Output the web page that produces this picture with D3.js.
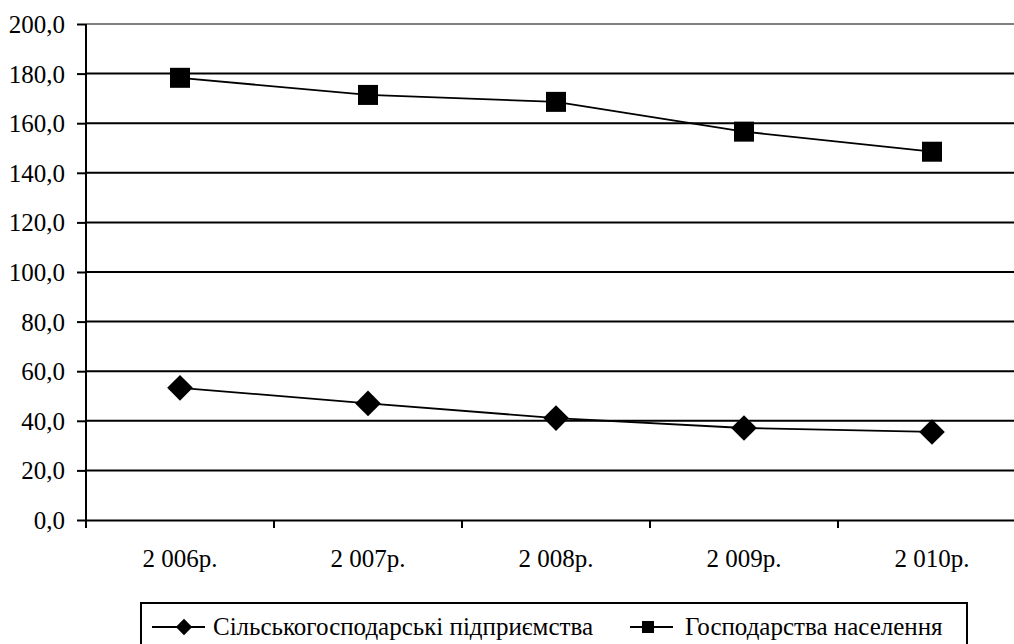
<!DOCTYPE html>
<html>
<head>
<meta charset="utf-8">
<script src="https://cdn.jsdelivr.net/npm/d3@7"></script>
</head>
<body style="margin:0">
<div id="chart"></div>
<script>
var years = ["2 006р.", "2 007р.", "2 008р.", "2 009р.", "2 010р."];
var enterprises = [53.3, 47.0, 41.1, 37.1, 35.5];
var households = [178.3, 171.4, 168.6, 156.6, 148.5];
var yTicks = [0, 20, 40, 60, 80, 100, 120, 140, 160, 180, 200];
var seriesNames = ["Сільськогосподарські підприємства", "Господарства населення"];

var width = 1014, height = 644;

var svg = d3.select("#chart").append("svg")
  .attr("width", width)
  .attr("height", height)
  .attr("font-family", "Liberation Serif");

var x = d3.scaleBand()
  .domain(years)
  .range([86, 1026]);

var y = d3.scaleLinear()
  .domain([0, 200])
  .range([520, 24]);

// grid lines
svg.append("g")
  .selectAll("line")
  .data(yTicks.filter(function(d) { return d > 0; }))
  .enter().append("line")
    .attr("x1", 86)
    .attr("x2", 1026)
    .attr("y1", function(d) { return y(d); })
    .attr("y2", function(d) { return y(d); })
    .attr("stroke", function(d) { return d === 200 ? "#808080" : "#000"; })
    .attr("stroke-width", 2);

// y axis
var yAxis = svg.append("g")
  .attr("transform", "translate(86,0)")
  .call(d3.axisLeft(y)
    .tickValues(yTicks)
    .tickSize(9)
    .tickPadding(12)
    .tickFormat(function(d) { return d3.format(".1f")(d).replace(".", ","); }));
yAxis.attr("font-family", "Liberation Serif").attr("font-size", 25);
yAxis.select(".domain").remove();
yAxis.selectAll(".tick line").attr("stroke", "#000").attr("stroke-width", 2);
yAxis.selectAll(".tick text")
  .attr("dy", "0.34em")
  .attr("font-family", "Liberation Serif")
  .style("font-family", "'Liberation Serif'");

svg.append("line")
  .attr("x1", 86).attr("x2", 86)
  .attr("y1", 24).attr("y2", 528)
  .attr("stroke", "#000").attr("stroke-width", 2);

// x axis
var xAxis = svg.append("g")
  .attr("transform", "translate(0,520)")
  .call(d3.axisBottom(x).tickSize(0).tickPadding(29));
xAxis.attr("font-family", "Liberation Serif").attr("font-size", 25);
xAxis.select(".domain").attr("stroke", "#000").attr("stroke-width", 2);
xAxis.selectAll(".tick text")
  .attr("font-family", "Liberation Serif")
  .style("font-family", "'Liberation Serif'");

svg.append("g")
  .selectAll("line")
  .data(years.slice(1))
  .enter().append("line")
    .attr("x1", function(d) { return x(d); })
    .attr("x2", function(d) { return x(d); })
    .attr("y1", 520).attr("y2", 528)
    .attr("stroke", "#000").attr("stroke-width", 2);

var cx = function(d, i) { return x(years[i]) + x.bandwidth() / 2; };

var line = d3.line()
  .x(function(d, i) { return cx(d, i); })
  .y(function(d) { return y(d); });

// lines
svg.append("path")
  .datum(enterprises)
  .attr("d", line)
  .attr("fill", "none")
  .attr("stroke", "#000")
  .attr("stroke-width", 1.8);

svg.append("path")
  .datum(households)
  .attr("d", line)
  .attr("fill", "none")
  .attr("stroke", "#000")
  .attr("stroke-width", 1.8);

// markers
var diamond = d3.symbol().type(d3.symbolDiamond2).size(420);
svg.append("g")
  .selectAll("path")
  .data(enterprises)
  .enter().append("path")
    .attr("d", diamond)
    .attr("transform", function(d, i) { return "translate(" + cx(d, i) + "," + y(d) + ")"; })
    .attr("fill", "#000");

svg.append("g")
  .selectAll("rect")
  .data(households)
  .enter().append("rect")
    .attr("x", function(d, i) { return cx(d, i) - 10; })
    .attr("y", function(d) { return y(d) - 10; })
    .attr("width", 20)
    .attr("height", 20)
    .attr("fill", "#000");

// legend
svg.append("rect")
  .attr("x", 141).attr("y", 603)
  .attr("width", 826).attr("height", 60)
  .attr("fill", "#fff")
  .attr("stroke", "#000")
  .attr("stroke-width", 2);

svg.append("line").attr("x1", 152).attr("x2", 205).attr("y1", 627).attr("y2", 627)
  .attr("stroke", "#000").attr("stroke-width", 2);
svg.append("path").attr("d", d3.symbol().type(d3.symbolDiamond2).size(170))
  .attr("transform", "translate(184,627)").attr("fill", "#000");

svg.append("line").attr("x1", 630).attr("x2", 673).attr("y1", 627).attr("y2", 627)
  .attr("stroke", "#000").attr("stroke-width", 2);
svg.append("rect").attr("x", 642).attr("y", 621).attr("width", 12).attr("height", 12).attr("fill", "#000");

svg.selectAll("text.legend")
  .data(seriesNames)
  .enter().append("text")
    .attr("class", "legend")
    .attr("x", function(d, i) { return i === 0 ? 213 : 685; })
    .attr("y", 635)
    .attr("font-size", 25)
    .attr("font-family", "Liberation Serif")
    .style("font-family", "'Liberation Serif'")
    .text(function(d) { return d; });
</script>
</body>
</html>
